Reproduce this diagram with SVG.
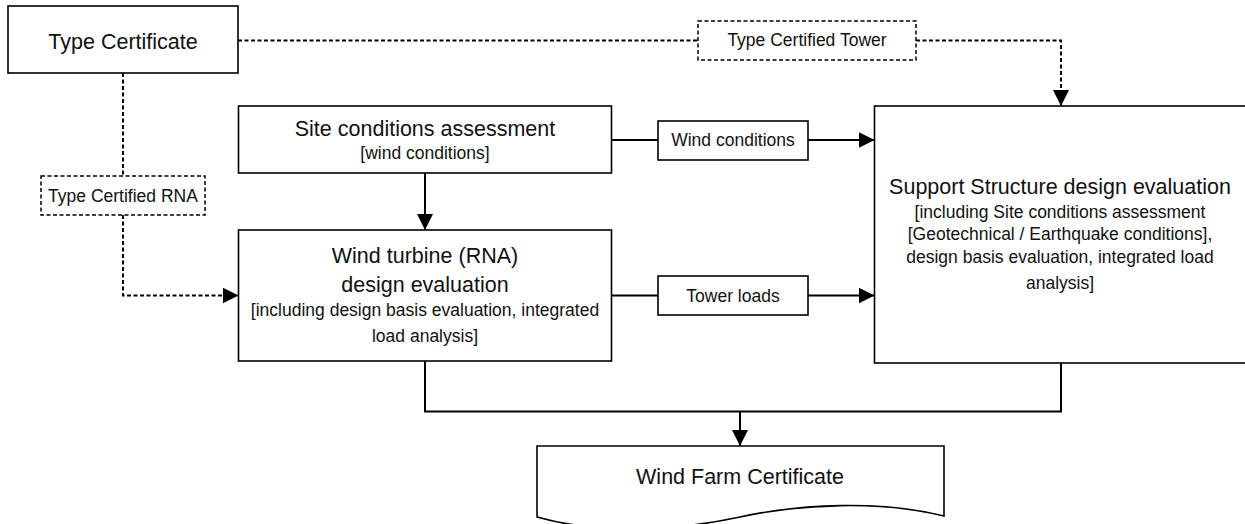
<svg xmlns="http://www.w3.org/2000/svg" width="1245" height="524" viewBox="0 0 1245 524">
<style>
  .box { fill: #ffffff; stroke: #000000; stroke-width: 1.6; }
  .dbox { fill: #ffffff; stroke: #000000; stroke-width: 1.5; stroke-dasharray: 4 2.5; }
  .ln { fill: none; stroke: #000000; stroke-width: 2; }
  .dl { fill: none; stroke: #000000; stroke-width: 2; stroke-dasharray: 4 2.5; }
  text { font-family: "Liberation Sans", Arial, sans-serif; fill: #111111; text-anchor: middle; }
  .t { font-size: 21.5px; }
  .s { font-size: 17.5px; }
  .l { font-size: 17.5px; }
</style>
<defs>
  <marker id="arr" markerUnits="userSpaceOnUse" markerWidth="16" markerHeight="16" refX="16" refY="8" orient="auto">
    <path d="M0,0 L16,8 L0,16 Z" fill="#000000"/>
  </marker>
</defs>

<g id="connectors">
  <path class="dl" d="M238,40.5 H698"/>
  <path class="dl" d="M916,40.5 H1061 V106" marker-end="url(#arr)"/>
  <path class="dl" d="M123,73 V176"/>
  <path class="dl" d="M123,215 V295.5 H238.5" marker-end="url(#arr)"/>
  <path class="ln" d="M425,173 V230" marker-end="url(#arr)"/>
  <path class="ln" d="M611.5,140 H658"/>
  <path class="ln" d="M808,140 H874.5" marker-end="url(#arr)"/>
  <path class="ln" d="M611.5,295.5 H658"/>
  <path class="ln" d="M808,295.5 H874.5" marker-end="url(#arr)"/>
  <path class="ln" d="M425,361 V411.5 H1061 V363"/>
  <path class="ln" d="M740,411.5 V446" marker-end="url(#arr)"/>
</g>

<g id="type-certificate">
  <rect class="box" x="8" y="6" width="230" height="67"/>
  <text class="t" x="123" y="48.5">Type Certificate</text>
</g>

<g id="type-certified-tower">
  <rect class="dbox" x="698" y="21" width="218" height="39"/>
  <text class="l" x="807" y="46">Type Certified Tower</text>
</g>

<g id="type-certified-rna">
  <rect class="dbox" x="41" y="176" width="164" height="39"/>
  <text class="l" x="123" y="201.5">Type Certified RNA</text>
</g>

<g id="site-conditions">
  <rect class="box" x="238.5" y="106" width="373" height="67"/>
  <text class="t" x="425" y="135.5">Site conditions assessment</text>
  <text class="s" x="425" y="159">[wind conditions]</text>
</g>

<g id="wind-turbine">
  <rect class="box" x="238.5" y="230" width="373" height="131"/>
  <text class="t" x="425" y="262.5">Wind turbine (RNA)</text>
  <text class="t" x="425" y="291.5">design evaluation</text>
  <text class="s" x="425" y="315.5">[including design basis evaluation, integrated</text>
  <text class="s" x="425" y="341.5">load analysis]</text>
</g>

<g id="wind-conditions-label">
  <rect class="box" x="658" y="121" width="150" height="39"/>
  <text class="l" x="733" y="146">Wind conditions</text>
</g>

<g id="tower-loads-label">
  <rect class="box" x="658" y="276" width="150" height="39"/>
  <text class="l" x="733" y="301.5">Tower loads</text>
</g>

<g id="support-structure">
  <rect class="box" x="874.5" y="106" width="372" height="257"/>
  <text class="t" x="1060" y="194">Support Structure design evaluation</text>
  <text class="s" x="1060" y="217.5">[including Site conditions assessment</text>
  <text class="s" x="1060" y="239.5">[Geotechnical / Earthquake conditions],</text>
  <text class="s" x="1060" y="262.5">design basis evaluation, integrated load</text>
  <text class="s" x="1060" y="288.5">analysis]</text>
</g>

<g id="wind-farm-certificate">
  <path class="box" d="M537,446 H944 V516 C880,500 800,504 740,517 C680,530 600,535 537,517 Z"/>
  <text class="t" x="740" y="483.5">Wind Farm Certificate</text>
</g>
</svg>
